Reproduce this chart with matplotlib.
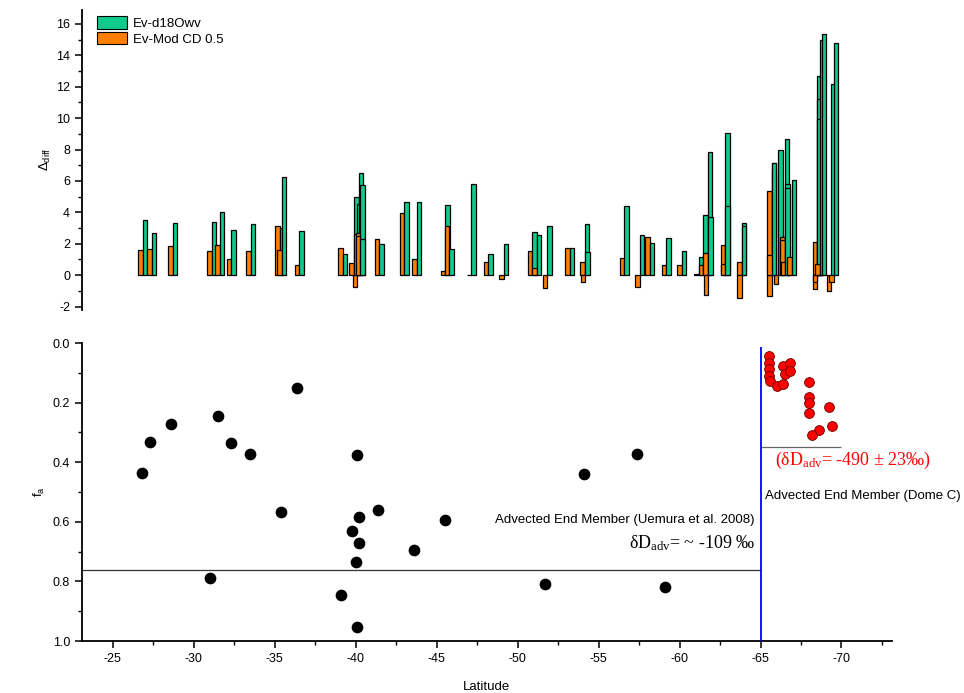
import matplotlib
matplotlib.use('Agg')
import matplotlib.pyplot as plt
from matplotlib.ticker import MultipleLocator, FormatStrFormatter
from matplotlib.patches import Patch

plt.rcParams['font.family'] = ['Liberation Sans', 'DejaVu Sans']
plt.rcParams['axes.unicode_minus'] = False

# top panel: Delta_diff per station
bar_lat = [-26.84, -27.40, -28.72, -31.10, -31.62, -32.33, -33.51, -35.32, -35.45, -36.51,
           -39.21, -39.90, -40.09, -40.19, -40.28, -40.30, -41.47, -43.01, -43.78, -45.54,
           -45.79, -47.13, -48.19, -49.14, -50.91, -51.19, -51.83, -53.21, -54.14, -54.17,
           -56.58, -57.55, -58.17, -59.18, -60.14, -61.19, -61.46, -61.75, -61.77, -62.81,
           -62.83, -63.84, -63.85, -65.68, -65.69, -65.70, -66.11, -66.49, -66.51, -66.52,
           -66.94, -68.49, -68.50, -68.51, -68.66, -68.78, -69.38, -69.51]
ev_mod = [1.59, 1.70, 1.86, 1.54, 1.95, 1.00, 1.54, 3.15, 1.60, 0.65,
          1.71, 0.78, -0.72, 2.60, 2.71, 2.50, 2.33, 3.94, 1.06, 0.25,
          3.15, 0.02, 0.87, -0.25, 1.57, 0.44, -0.84, 1.76, 0.87, -0.46,
          1.12, -0.72, 2.43, 0.68, 0.68, 0.06, 0.62, 1.42, -1.25, 1.90,
          0.74, 0.85, -1.48, 5.36, -1.31, 1.29, -0.53, 2.43, 2.24, 0.81,
          1.16, 2.11, -0.85, -0.43, 0.74, 0.00, -1.00, -0.46]
ev_d18o = [3.50, 2.67, 3.35, 3.37, 4.02, 2.90, 3.26, 3.00, 6.27, 2.84,
           1.35, 4.95, 4.53, 6.48, 5.75, 2.33, 1.97, 4.68, 4.68, 4.50,
           1.69, 5.78, 1.38, 2.01, 2.73, 2.54, 3.15, 1.71, 3.28, 1.50,
           4.43, 2.58, 2.05, 2.37, 1.52, 1.16, 3.85, 7.85, 3.73, 9.03,
           4.42, 3.32, 3.13, 6.56, 7.17, 7.17, 7.96, 8.68, 5.82, 5.52,
           6.05, 12.68, 11.20, 9.97, 14.94, 15.35, 12.19, 14.79]

# bottom panel: fa vs latitude
blk_lat = [-26.8, -27.3, -28.6, -31.5, -32.3, -33.5, -36.4, -35.4, -31.0, -40.1, -41.4, -40.2,
           -39.8, -40.2, -40.0, -39.1, -40.1, -43.6, -45.5, -54.1, -57.4, -51.7, -59.1]
blk_fa = [0.436, 0.332, 0.272, 0.245, 0.336, 0.372, 0.151, 0.567, 0.789, 0.376, 0.560, 0.584,
          0.631, 0.671, 0.735, 0.846, 0.953, 0.695, 0.594, 0.440, 0.372, 0.809, 0.819]
red_lat = [-65.5, -65.5, -65.5, -65.5, -65.6, -66.0, -66.4, -66.4, -66.5, -66.8, -66.8,
           -68.0, -68.0, -68.0, -68.0, -69.2, -69.4, -68.6, -68.2]
red_fa = [0.044, 0.066, 0.088, 0.109, 0.127, 0.143, 0.137, 0.077, 0.103, 0.067, 0.093,
          0.132, 0.181, 0.201, 0.235, 0.214, 0.279, 0.293, 0.307]

fa_uemura = 0.76
fa_domec = 0.35
lat_split = -65
lat_domec_end = -70

GREEN = '#10CC8C'
ORANGE = '#FF8000'
XLIM = (-23.1, -73.1)
BW = 0.28

fig = plt.figure(figsize=(9.64, 6.93), dpi=100)
ax1 = fig.add_axes([0.085, 0.553, 0.840, 0.433])
ax2 = fig.add_axes([0.085, 0.075, 0.840, 0.430])

# bars drawn station by station so later ones sit on top
for i, (lat, o, g) in enumerate(zip(bar_lat, ev_mod, ev_d18o)):
    ax1.bar(lat, o, width=BW, align='edge', color=ORANGE, edgecolor='black',
            linewidth=0.9, zorder=2 + 2 * i)
    ax1.bar(lat, g, width=-BW, align='edge', color=GREEN, edgecolor='black',
            linewidth=0.9, zorder=3 + 2 * i)

ax1.set_xlim(*XLIM)
ax1.set_ylim(-2.2, 16.9)
for s in ['top', 'right', 'bottom']:
    ax1.spines[s].set_visible(False)
ax1.spines['left'].set_linewidth(1.3)
ax1.set_xticks([])
ax1.yaxis.set_major_locator(MultipleLocator(2))
ax1.yaxis.set_minor_locator(MultipleLocator(1))
ax1.tick_params(axis='y', which='major', direction='out', length=5, width=1.1, labelsize=9)
ax1.tick_params(axis='y', which='minor', direction='out', length=3, width=1.0)
ax1.set_ylabel(r'$\mathregular{\Delta_{diff}}$', fontsize=9.5, labelpad=2)

handles = [Patch(facecolor=GREEN, edgecolor='black', linewidth=0.8, label='Ev-d18Owv'),
           Patch(facecolor=ORANGE, edgecolor='black', linewidth=0.8, label='Ev-Mod CD 0.5')]
ax1.legend(handles=handles, loc='upper left', bbox_to_anchor=(0.012, 0.995), frameon=False,
           fontsize=9.5, handlelength=2.3, handleheight=1.05, handletextpad=0.4,
           labelspacing=0.15, borderaxespad=0)

# bottom panel
ax2.scatter(blk_lat, blk_fa, s=55, color='black', zorder=4)
ax2.scatter(red_lat, red_fa, s=50, facecolor='#FF0000', edgecolor='#660000',
            linewidth=0.6, zorder=4)
ax2.hlines(fa_uemura, XLIM[0], lat_split, color='#333333', linewidth=0.9, zorder=3)
ax2.hlines(fa_domec, lat_split, lat_domec_end, color='#666666', linewidth=0.9, zorder=3)
ax2.vlines(lat_split, 0.013, 1.0, color='#0000FF', linewidth=1.3, zorder=3)

ax2.set_xlim(*XLIM)
ax2.set_ylim(1.0, 0.0)
for s in ['top', 'right']:
    ax2.spines[s].set_visible(False)
for s in ['left', 'bottom']:
    ax2.spines[s].set_linewidth(1.3)
ax2.xaxis.set_major_locator(MultipleLocator(5))
ax2.xaxis.set_minor_locator(MultipleLocator(2.5))
ax2.yaxis.set_major_locator(MultipleLocator(0.2))
ax2.yaxis.set_minor_locator(MultipleLocator(0.1))
ax2.yaxis.set_major_formatter(FormatStrFormatter('%.1f'))
ax2.tick_params(which='major', direction='out', length=5, width=1.1, labelsize=9)
ax2.tick_params(which='minor', direction='out', length=3, width=1.0)
ax2.set_xlabel('Latitude', fontsize=9.5, labelpad=12)
ax2.set_ylabel(r'$\mathregular{f_a}$', fontsize=9.5, labelpad=4)

serif = ['Liberation Serif', 'DejaVu Serif']
ax2.text(-64.6, 0.595, 'Advected End Member (Uemura et al. 2008)', fontsize=9.5,
         ha='right', va='center')
ax2.text(-64.7, 0.672, r'δD$\mathregular{_{adv}}$= ~ -109 ‰', fontsize=13,
         family=serif, ha='right', va='center')
ax2.text(-65.9, 0.393, r'(δD$\mathregular{_{adv}}$= -490 ± 23‰)', fontsize=13,
         family=serif, color='#FF0000', ha='left', va='center')
ax2.text(-65.3, 0.515, 'Advected End Member (Dome C)', fontsize=9.5,
         ha='left', va='center')

fig.savefig('out.png', dpi=100)
